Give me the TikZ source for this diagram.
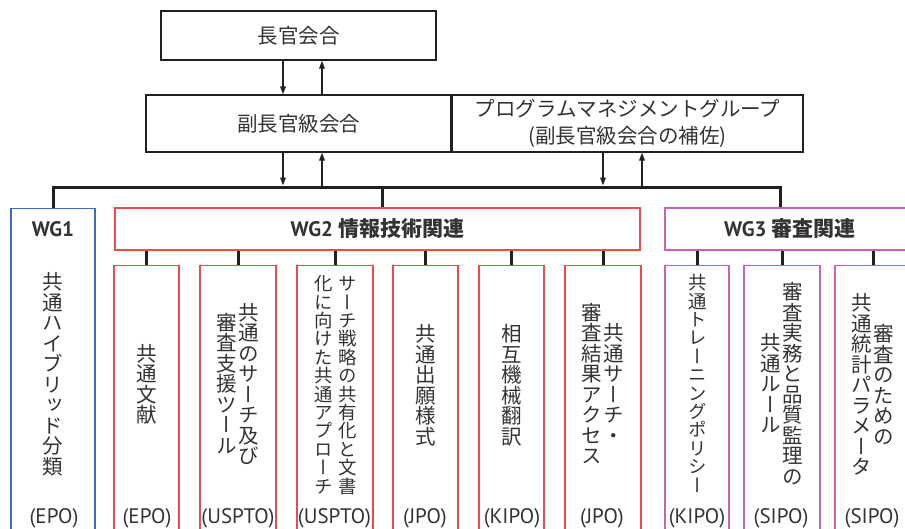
\documentclass[tikz,border=0pt]{standalone}
\usepackage{fontspec}
\setmainfont{PT Sans}
\newfontfamily\jp{Noto Sans CJK JP}
\newfontfamily\vjp[RawFeature={vertical;+vert}]{Noto Sans CJK JP}
\usetikzlibrary{arrows.meta}
\definecolor{ln}{HTML}{231F20}
\definecolor{txt}{HTML}{333333}
\definecolor{wgblue}{HTML}{3D6BC4}
\definecolor{wgred}{HTML}{EE4A4A}
\definecolor{wgmag}{HTML}{CC5FB8}
\tikzset{
  orgbox/.style={draw=ln, line width=1.2pt, inner sep=0pt, text=txt, font=\jp\fontsize{20.5}{27}\selectfont},
  wgbox/.style={draw, line width=1.4pt, inner sep=0pt, text=txt, font=\fontsize{21}{24}\selectfont},
  vtext/.style={xshift=7.8pt, rotate=-90, align=center, text=txt, inner sep=0pt, font=\vjp\fontsize{20.5}{22}\selectfont},
  vsmall/.style={font=\vjp\fontsize{18.4}{24}\selectfont},
  orglabel/.style={text=txt, font=\fontsize{21}{24}\selectfont, anchor=base, inner sep=0pt},
  arr/.style={draw=ln, line width=1.6pt, -{Triangle[length=8pt,width=5.5pt]}},
  busline/.style={draw=ln, line width=3pt, line join=miter},
  stub/.style={draw=ln, line width=3pt}
}
\begin{document}
\begin{tikzpicture}[x=1pt,y=-1pt]
\useasboundingbox (0,0) rectangle (905,528);
\fill[white] (0,0) rectangle (905,528);

% top boxes
\node[orgbox, minimum width=275pt, minimum height=49pt] (chief) at (298.5,35.5) {長官会合};
\node[orgbox, minimum width=305pt, minimum height=57pt] (dep) at (298.5,123.5) {副長官級会合};
\node[orgbox, minimum width=351pt, minimum height=57pt, align=center] (pmg) at (627.5,123.5) {プログラムマネジメントグループ\\(副長官級会合の補佐)};

\coordinate (bus) at (0,187);
\coordinate (b2) at (382,187);
\coordinate (b3) at (780,187);

% arrows
\draw[arr] ([xshift=-15.5pt]chief.south) -- ([xshift=-15.5pt]dep.north);
\draw[arr] ([xshift=23.5pt]dep.north) -- ([xshift=23.5pt]chief.south);
\draw[arr, shorten >=1.5pt] ([xshift=-15.5pt]dep.south) -- ([xshift=-15.5pt]dep.south |- bus);
\draw[arr, shorten <=1.5pt] ([xshift=23.5pt]dep.south |- bus) -- ([xshift=23.5pt]dep.south);
\draw[arr, shorten >=1.5pt] ([xshift=-24.5pt]pmg.south) -- ([xshift=-24.5pt]pmg.south |- bus);
\draw[arr, shorten <=1.5pt] ([xshift=14.5pt]pmg.south |- bus) -- ([xshift=14.5pt]pmg.south);

% working groups
\node[wgbox, draw=wgblue, minimum width=84pt, minimum height=360pt, anchor=north] (wg1) at (53,208) {};
\node[wgbox, draw=wgred, minimum width=525pt, minimum height=42pt] (wg2) at (377.5,229) {\bfseries WG2 {\jp\bfseries 情報技術関連}};
\node[wgbox, draw=wgmag, minimum width=250pt, minimum height=42pt] (wg3) at (790,229) {\bfseries WG3 {\jp\bfseries 審査関連}};
\node[text=txt, font=\fontsize{21}{24}\selectfont\bfseries, inner sep=0pt] (wg1t) at (53,229) {WG1};

% bus
\draw[busline] (wg1.north) |- (b3) -- (b3 |- wg3.north);
\draw[stub] (b2) -- (b2 |- wg2.north);

% columns
\node[wgbox, draw=wgred, minimum width=65pt, minimum height=300pt, anchor=north] (c1) at (146.5,265) {};
\node[wgbox, draw=wgred, minimum width=76pt, minimum height=300pt, anchor=north] (c2) at (238,265) {};
\node[wgbox, draw=wgred, minimum width=76pt, minimum height=300pt, anchor=north] (c3) at (335,265) {};
\node[wgbox, draw=wgred, minimum width=65pt, minimum height=300pt, anchor=north] (c4) at (425.5,265) {};
\node[wgbox, draw=wgred, minimum width=65pt, minimum height=300pt, anchor=north] (c5) at (511.5,265) {};
\node[wgbox, draw=wgred, minimum width=76pt, minimum height=300pt, anchor=north] (c6) at (603,265) {};
\node[wgbox, draw=wgmag, minimum width=64pt, minimum height=300pt, anchor=north] (c7) at (697,265) {};
\node[wgbox, draw=wgmag, minimum width=76pt, minimum height=300pt, anchor=north] (c8) at (782,265) {};
\node[wgbox, draw=wgmag, minimum width=76pt, minimum height=300pt, anchor=north] (c9) at (873,265) {};

\foreach \c in {c1,c2,c3,c4,c5,c6}{\draw[stub] (\c.north |- wg2.south) -- (\c.north);}
\foreach \c in {c7,c8,c9}{\draw[stub] (\c.north |- wg3.south) -- (\c.north);}

% vertical texts
\node[vtext] (t0) at (53,374) {共通ハイブリッド分類};
\node[vtext] (t1) at (146.5,384) {共通文献};
\node[vtext] (t2) at (238,384) {共通のサーチ及び\\審査支援ツール};
\node[vtext, vsmall] (t3) at (335,385) {サーチ戦略の共有化と文書\\化に向けた共通アプローチ};
\node[vtext] (t4) at (425.5,385) {共通出願様式};
\node[vtext] (t5) at (511.5,385) {相互機械翻訳};
\node[vtext] (t6) at (603,384) {共通サーチ・\\審査結果アクセス};
\node[vtext, vsmall] (t7) at (697,384) {共通トレーニングポリシー};
\node[vtext] (t8) at (782,384) {審査実務と品質監理の\\共通ルール};
\node[vtext] (t9) at (873,385) {審査のための\\共通統計パラメータ};

% labels
\node[orglabel] (l0) at (54,523) {(EPO)};
\node[orglabel] (l1) at (147,523) {(EPO)};
\node[orglabel] (l2) at (238,523) {(USPTO)};
\node[orglabel] (l3) at (334.5,523) {(USPTO)};
\node[orglabel] (l4) at (425,523) {(JPO)};
\node[orglabel] (l5) at (512,523) {(KIPO)};
\node[orglabel] (l6) at (602,523) {(JPO)};
\node[orglabel] (l7) at (697,523) {(KIPO)};
\node[orglabel] (l8) at (781,523) {(SIPO)};
\node[orglabel] (l9) at (872,523) {(SIPO)};
\end{tikzpicture}
\end{document}
